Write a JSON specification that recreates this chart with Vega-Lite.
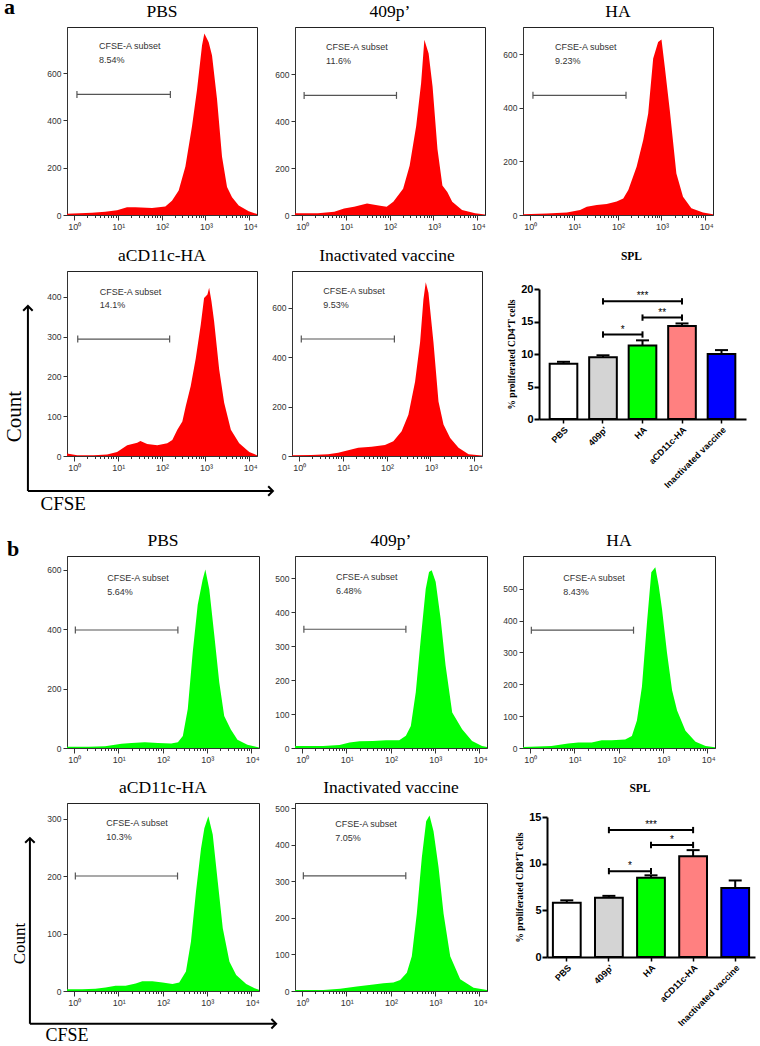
{
"$schema": "https://vega.github.io/schema/vega-lite/v6.json",
"background": "white",
"padding": {"left": 2, "top": -4, "right": 0, "bottom": 0},
"config": {
  "view": {"stroke": "#222", "strokeWidth": 1},
  "axis": {"grid": false, "labelFont": "Liberation Sans", "labelFontSize": 8.5, "labelColor": "#333", "tickColor": "#333", "domainColor": "#333", "labelPadding": 2, "labelOverlap": false, "labelSeparation": -60, "labelFlush": false, "titleFont": "Liberation Serif", "titleFontWeight": "normal", "titleColor": "black"},
  "title": {"font": "Liberation Serif", "fontSize": 17.5, "fontWeight": "normal", "color": "black", "offset": 7},
  "text": {"font": "Liberation Sans"}
},
"datasets": {
  "hist": [
    {"p":"aPBS","x":0.7,"c":5},{"p":"aPBS","x":2.6,"c":10},{"p":"aPBS","x":5.2,"c":14},{"p":"aPBS","x":9.7,"c":20},{"p":"aPBS","x":16.3,"c":33},{"p":"aPBS","x":25.3,"c":33},{"p":"aPBS","x":60.7,"c":30},{"p":"aPBS","x":122,"c":36},{"p":"aPBS","x":173,"c":60},{"p":"aPBS","x":246,"c":104},{"p":"aPBS","x":349,"c":204},{"p":"aPBS","x":495,"c":375},{"p":"aPBS","x":644,"c":530},{"p":"aPBS","x":837,"c":717},{"p":"aPBS","x":946,"c":767},{"p":"aPBS","x":1189,"c":731},{"p":"aPBS","x":1416,"c":674},{"p":"aPBS","x":1841,"c":489},{"p":"aPBS","x":2393,"c":246},{"p":"aPBS","x":3112,"c":118},{"p":"aPBS","x":4046,"c":75},{"p":"aPBS","x":5741,"c":40},{"p":"aPBS","x":9705,"c":16},{"p":"aPBS","x":15000,"c":4},
    {"p":"a409","x":0.7,"c":7},{"p":"a409","x":2.33,"c":7},{"p":"a409","x":5.5,"c":14},{"p":"a409","x":9.2,"c":28},{"p":"a409","x":15.5,"c":35},{"p":"a409","x":30.7,"c":49},{"p":"a409","x":61,"c":39},{"p":"a409","x":86,"c":35},{"p":"a409","x":122,"c":56},{"p":"a409","x":204,"c":112},{"p":"a409","x":287,"c":210},{"p":"a409","x":405,"c":379},{"p":"a409","x":524,"c":561},{"p":"a409","x":622,"c":746},{"p":"a409","x":778,"c":687},{"p":"a409","x":957,"c":547},{"p":"a409","x":1239,"c":280},{"p":"a409","x":1603,"c":126},{"p":"a409","x":2075,"c":98},{"p":"a409","x":2685,"c":56},{"p":"a409","x":4498,"c":21},{"p":"a409","x":8935,"c":7},{"p":"a409","x":15000,"c":2},
    {"p":"aHA","x":0.7,"c":3},{"p":"aHA","x":2.45,"c":6},{"p":"aHA","x":7.0,"c":9},{"p":"aHA","x":14,"c":19},{"p":"aHA","x":19.9,"c":31},{"p":"aHA","x":33.5,"c":37},{"p":"aHA","x":56.6,"c":41},{"p":"aHA","x":95.5,"c":50},{"p":"aHA","x":135,"c":62},{"p":"aHA","x":176,"c":93},{"p":"aHA","x":272,"c":180},{"p":"aHA","x":385,"c":280},{"p":"aHA","x":500,"c":379},{"p":"aHA","x":649,"c":584},{"p":"aHA","x":843,"c":646},{"p":"aHA","x":1004,"c":655},{"p":"aHA","x":1195,"c":553},{"p":"aHA","x":1552,"c":391},{"p":"aHA","x":2195,"c":155},{"p":"aHA","x":3110,"c":68},{"p":"aHA","x":4815,"c":25},{"p":"aHA","x":8870,"c":9},{"p":"aHA","x":15000,"c":3},
    {"p":"aCD","x":0.7,"c":6},{"p":"aCD","x":1.19,"c":2},{"p":"aCD","x":2.85,"c":2},{"p":"aCD","x":5.75,"c":4},{"p":"aCD","x":9.7,"c":10},{"p":"aCD","x":16.5,"c":27},{"p":"aCD","x":27.9,"c":33},{"p":"aCD","x":33,"c":38},{"p":"aCD","x":47,"c":30},{"p":"aCD","x":80,"c":27},{"p":"aCD","x":135,"c":32},{"p":"aCD","x":176,"c":40},{"p":"aCD","x":229,"c":66},{"p":"aCD","x":298,"c":87},{"p":"aCD","x":356,"c":125},{"p":"aCD","x":463,"c":176},{"p":"aCD","x":602,"c":245},{"p":"aCD","x":783,"c":330},{"p":"aCD","x":933,"c":397},{"p":"aCD","x":1113,"c":406},{"p":"aCD","x":1216,"c":423},{"p":"aCD","x":1374,"c":389},{"p":"aCD","x":1581,"c":338},{"p":"aCD","x":2057,"c":218},{"p":"aCD","x":2677,"c":134},{"p":"aCD","x":3805,"c":66},{"p":"aCD","x":5900,"c":32},{"p":"aCD","x":9990,"c":10},{"p":"aCD","x":15000,"c":2},
    {"p":"aIn","x":0.7,"c":3},{"p":"aIn","x":1.94,"c":4},{"p":"aIn","x":4.66,"c":7},{"p":"aIn","x":7.9,"c":13},{"p":"aIn","x":13.4,"c":23},{"p":"aIn","x":22.6,"c":33},{"p":"aIn","x":45.6,"c":37},{"p":"aIn","x":92,"c":44},{"p":"aIn","x":143,"c":60},{"p":"aIn","x":221,"c":100},{"p":"aIn","x":315,"c":167},{"p":"aIn","x":447,"c":300},{"p":"aIn","x":582,"c":460},{"p":"aIn","x":693,"c":633},{"p":"aIn","x":784,"c":703},{"p":"aIn","x":902,"c":660},{"p":"aIn","x":1174,"c":460},{"p":"aIn","x":1528,"c":220},{"p":"aIn","x":1988,"c":127},{"p":"aIn","x":2823,"c":73},{"p":"aIn","x":4377,"c":33},{"p":"aIn","x":7413,"c":7},{"p":"aIn","x":15000,"c":2},
    {"p":"bPBS","x":0.7,"c":4},{"p":"bPBS","x":2.14,"c":4},{"p":"bPBS","x":5.06,"c":6},{"p":"bPBS","x":11.9,"c":14},{"p":"bPBS","x":20,"c":17},{"p":"bPBS","x":39.8,"c":19},{"p":"bPBS","x":79,"c":17},{"p":"bPBS","x":157,"c":15},{"p":"bPBS","x":222,"c":19},{"p":"bPBS","x":287,"c":40},{"p":"bPBS","x":371,"c":131},{"p":"bPBS","x":481,"c":324},{"p":"bPBS","x":622,"c":482},{"p":"bPBS","x":805,"c":567},{"p":"bPBS","x":924,"c":601},{"p":"bPBS","x":1136,"c":533},{"p":"bPBS","x":1470,"c":380},{"p":"bPBS","x":1903,"c":221},{"p":"bPBS","x":2462,"c":108},{"p":"bPBS","x":3473,"c":62},{"p":"bPBS","x":4900,"c":28},{"p":"bPBS","x":8200,"c":11},{"p":"bPBS","x":15000,"c":2},
    {"p":"b409","x":0.7,"c":6},{"p":"b409","x":3.0,"c":6},{"p":"b409","x":7.1,"c":9},{"p":"b409","x":11.9,"c":16},{"p":"b409","x":20,"c":20},{"p":"b409","x":39.8,"c":21},{"p":"b409","x":79,"c":23},{"p":"b409","x":157,"c":23},{"p":"b409","x":222,"c":36},{"p":"b409","x":287,"c":65},{"p":"b409","x":371,"c":164},{"p":"b409","x":481,"c":322},{"p":"b409","x":622,"c":469},{"p":"b409","x":739,"c":519},{"p":"b409","x":848,"c":524},{"p":"b409","x":1042,"c":490},{"p":"b409","x":1349,"c":381},{"p":"b409","x":1746,"c":243},{"p":"b409","x":2462,"c":105},{"p":"b409","x":4125,"c":55},{"p":"b409","x":6905,"c":21},{"p":"b409","x":11560,"c":6},{"p":"b409","x":15000,"c":3},
    {"p":"bHA","x":0.7,"c":3},{"p":"bHA","x":3.07,"c":6},{"p":"bHA","x":7.3,"c":14},{"p":"bHA","x":12.4,"c":17},{"p":"bHA","x":24.8,"c":17},{"p":"bHA","x":41.8,"c":24},{"p":"bHA","x":70,"c":24},{"p":"bHA","x":141,"c":27},{"p":"bHA","x":200,"c":38},{"p":"bHA","x":260,"c":86},{"p":"bHA","x":337,"c":192},{"p":"bHA","x":438,"c":393},{"p":"bHA","x":549,"c":552},{"p":"bHA","x":676,"c":568},{"p":"bHA","x":805,"c":510},{"p":"bHA","x":958,"c":436},{"p":"bHA","x":1242,"c":298},{"p":"bHA","x":1614,"c":181},{"p":"bHA","x":2094,"c":118},{"p":"bHA","x":3235,"c":54},{"p":"bHA","x":5455,"c":20},{"p":"bHA","x":9200,"c":6},{"p":"bHA","x":15000,"c":2},
    {"p":"bCD","x":0.7,"c":3},{"p":"bCD","x":1.53,"c":3},{"p":"bCD","x":3.07,"c":4},{"p":"bCD","x":5.2,"c":6},{"p":"bCD","x":8.7,"c":9},{"p":"bCD","x":14.7,"c":9},{"p":"bCD","x":24.8,"c":13},{"p":"bCD","x":35,"c":17},{"p":"bCD","x":59,"c":17},{"p":"bCD","x":100,"c":15},{"p":"bCD","x":168,"c":12},{"p":"bCD","x":238,"c":15},{"p":"bCD","x":337,"c":34},{"p":"bCD","x":438,"c":86},{"p":"bCD","x":569,"c":173},{"p":"bCD","x":738,"c":248},{"p":"bCD","x":878,"c":283},{"p":"bCD","x":1081,"c":304},{"p":"bCD","x":1356,"c":272},{"p":"bCD","x":1762,"c":190},{"p":"bCD","x":2286,"c":109},{"p":"bCD","x":3236,"c":51},{"p":"bCD","x":4584,"c":28},{"p":"bCD","x":7720,"c":12},{"p":"bCD","x":11940,"c":5},{"p":"bCD","x":15000,"c":2},
    {"p":"bIn","x":0.7,"c":3},{"p":"bIn","x":3.05,"c":3},{"p":"bIn","x":7.3,"c":6},{"p":"bIn","x":17.3,"c":12},{"p":"bIn","x":41.2,"c":18},{"p":"bIn","x":69,"c":21},{"p":"bIn","x":116,"c":23},{"p":"bIn","x":165,"c":30},{"p":"bIn","x":233,"c":50},{"p":"bIn","x":302,"c":95},{"p":"bIn","x":392,"c":212},{"p":"bIn","x":508,"c":365},{"p":"bIn","x":637,"c":464},{"p":"bIn","x":758,"c":480},{"p":"bIn","x":933,"c":437},{"p":"bIn","x":1211,"c":338},{"p":"bIn","x":1570,"c":212},{"p":"bIn","x":2220,"c":95},{"p":"bIn","x":3733,"c":32},{"p":"bIn","x":7475,"c":9},{"p":"bIn","x":15000,"c":3}
  ],
  "gate": [
    {"p":"aPBS","g1":1.18,"g2":159,"gy":510,"pct":"8.54%"},
    {"p":"a409","g1":1.13,"g2":144,"gy":509,"pct":"11.6%"},
    {"p":"aHA","g1":1.18,"g2":156,"gy":447,"pct":"9.23%"},
    {"p":"aCD","g1":1.23,"g2":153,"gy":294,"pct":"14.1%"},
    {"p":"aIn","g1":1.14,"g2":151,"gy":473,"pct":"9.53%"},
    {"p":"bPBS","g1":1.08,"g2":222,"gy":397,"pct":"5.64%"},
    {"p":"b409","g1":1.11,"g2":222,"gy":350,"pct":"6.48%"},
    {"p":"bHA","g1":1.08,"g2":218,"gy":370,"pct":"8.43%"},
    {"p":"bCD","g1":1.08,"g2":218,"gy":200,"pct":"10.3%"},
    {"p":"bIn","g1":1.08,"g2":221,"gy":315,"pct":"7.05%"}
  ],
  "barsA": [{"g":"PBS","m":8.5,"hi":8.8},{"g":"409p'","m":9.5,"hi":9.8},{"g":"HA","m":11.3,"hi":12.1},{"g":"aCD11c-HA","m":14.3,"hi":14.7},{"g":"Inactivated vaccine","m":10.0,"hi":10.6}],
  "barsB": [{"g":"PBS","m":5.8,"hi":6.07},{"g":"409p'","m":6.35,"hi":6.55},{"g":"HA","m":8.5,"hi":8.75},{"g":"aCD11c-HA","m":10.8,"hi":11.45},{"g":"Inactivated vaccine","m":7.4,"hi":8.2}],
  "sigA": [{"from":"409p'","to":"HA","y":13.0,"s":"*","span":1},{"from":"HA","to":"aCD11c-HA","y":15.6,"s":"**","span":1},{"from":"409p'","to":"aCD11c-HA","y":18.1,"s":"***","span":2}],
  "sigB": [{"from":"409p'","to":"HA","y":9.2,"s":"*","span":1},{"from":"HA","to":"aCD11c-HA","y":12.0,"s":"*","span":1},{"from":"409p'","to":"aCD11c-HA","y":13.6,"s":"***","span":2}]
},
"spacing": 17,
"align": "none",
"vconcat": [
 {"spacing": 14, "vconcat": [
  {"title": {"text": "a", "anchor": "start", "frame": "group", "dx": -63, "dy": 17, "offset": 0, "fontSize": 22, "fontWeight": "bold", "font": "Liberation Serif"},
   "hconcat": [
   {"width": 190, "height": 188, "title": "PBS", "layer": [
    {"data": {"name": "hist"}, "transform": [{"filter": "datum.p=='aPBS'"}], "mark": {"type": "area", "color": "#ff0000"},
     "encoding": {
      "x": {"field": "x", "type": "quantitative", "scale": {"type": "log", "domain": [0.7, 15000], "nice": false}, "axis": {"title": null, "labelOverlap": false, "values": [1,2,3,4,5,6,7,8,9,10,20,30,40,50,60,70,80,90,100,200,300,400,500,600,700,800,900,1000,2000,3000,4000,5000,6000,7000,8000,9000,10000], "labelExpr": "datum.value==1?'10⁰':datum.value==10?'10¹':datum.value==100?'10²':datum.value==1000?'10³':datum.value==10000?'10⁴':''", "labelFontSize": 9, "labelAlign": "left", "labelOffset": -6, "tickSize": {"condition": {"test": "indexof([1,10,100,1000,10000], datum.value) >= 0", "value": 5}, "value": 2.5}}},
      "y": {"field": "c", "type": "quantitative", "scale": {"domain": [0, 795], "nice": false}, "axis": {"title": null, "labelOverlap": false, "values": [0,200,400,600], "tickCount": 4, "tickSize": 4}}
     }},
    {"data": {"name": "gate"}, "transform": [{"filter": "datum.p=='aPBS'"}], "mark": {"type": "rule", "color": "#555", "strokeWidth": 1.2}, "encoding": {"x": {"field": "g1", "type": "quantitative"}, "x2": {"field": "g2"}, "y": {"field": "gy", "type": "quantitative"}}},
    {"data": {"name": "gate"}, "transform": [{"filter": "datum.p=='aPBS'"}, {"fold": ["g1", "g2"], "as": ["end", "gx"]}], "mark": {"type": "point", "shape": "M0,-1L0,1", "size": 49, "color": "#555", "strokeWidth": 1.2, "opacity": 1}, "encoding": {"x": {"field": "gx", "type": "quantitative"}, "y": {"field": "gy", "type": "quantitative"}}},
    {"data": {"name": "gate"}, "transform": [{"filter": "datum.p=='aPBS'"}], "mark": {"type": "text", "text": "CFSE-A subset", "align": "left", "baseline": "middle", "dx": 22, "dy": -48, "fontSize": 9, "color": "#333"}, "encoding": {"x": {"field": "g1", "type": "quantitative"}, "y": {"field": "gy", "type": "quantitative"}}},
    {"data": {"name": "gate"}, "transform": [{"filter": "datum.p=='aPBS'"}], "mark": {"type": "text", "align": "left", "baseline": "middle", "dx": 22, "dy": -34, "fontSize": 9, "color": "#333"}, "encoding": {"x": {"field": "g1", "type": "quantitative"}, "y": {"field": "gy", "type": "quantitative"}, "text": {"field": "pct"}}}
   ]},
   {"width": 190, "height": 188, "title": "409p’", "layer": [
    {"data": {"name": "hist"}, "transform": [{"filter": "datum.p=='a409'"}], "mark": {"type": "area", "color": "#ff0000"},
     "encoding": {
      "x": {"field": "x", "type": "quantitative", "scale": {"type": "log", "domain": [0.7, 15000], "nice": false}, "axis": {"title": null, "labelOverlap": false, "values": [1,2,3,4,5,6,7,8,9,10,20,30,40,50,60,70,80,90,100,200,300,400,500,600,700,800,900,1000,2000,3000,4000,5000,6000,7000,8000,9000,10000], "labelExpr": "datum.value==1?'10⁰':datum.value==10?'10¹':datum.value==100?'10²':datum.value==1000?'10³':datum.value==10000?'10⁴':''", "labelFontSize": 9, "labelAlign": "left", "labelOffset": -6, "tickSize": {"condition": {"test": "indexof([1,10,100,1000,10000], datum.value) >= 0", "value": 5}, "value": 2.5}}},
      "y": {"field": "c", "type": "quantitative", "scale": {"domain": [0, 800], "nice": false}, "axis": {"title": null, "labelOverlap": false, "values": [0,200,400,600], "tickCount": 4, "tickSize": 4}}
     }},
    {"data": {"name": "gate"}, "transform": [{"filter": "datum.p=='a409'"}], "mark": {"type": "rule", "color": "#555", "strokeWidth": 1.2}, "encoding": {"x": {"field": "g1", "type": "quantitative"}, "x2": {"field": "g2"}, "y": {"field": "gy", "type": "quantitative"}}},
    {"data": {"name": "gate"}, "transform": [{"filter": "datum.p=='a409'"}, {"fold": ["g1", "g2"], "as": ["end", "gx"]}], "mark": {"type": "point", "shape": "M0,-1L0,1", "size": 49, "color": "#555", "strokeWidth": 1.2, "opacity": 1}, "encoding": {"x": {"field": "gx", "type": "quantitative"}, "y": {"field": "gy", "type": "quantitative"}}},
    {"data": {"name": "gate"}, "transform": [{"filter": "datum.p=='a409'"}], "mark": {"type": "text", "text": "CFSE-A subset", "align": "left", "baseline": "middle", "dx": 22, "dy": -48, "fontSize": 9, "color": "#333"}, "encoding": {"x": {"field": "g1", "type": "quantitative"}, "y": {"field": "gy", "type": "quantitative"}}},
    {"data": {"name": "gate"}, "transform": [{"filter": "datum.p=='a409'"}], "mark": {"type": "text", "align": "left", "baseline": "middle", "dx": 22, "dy": -34, "fontSize": 9, "color": "#333"}, "encoding": {"x": {"field": "g1", "type": "quantitative"}, "y": {"field": "gy", "type": "quantitative"}, "text": {"field": "pct"}}}
   ]},
   {"width": 190, "height": 188, "title": "HA", "layer": [
    {"data": {"name": "hist"}, "transform": [{"filter": "datum.p=='aHA'"}], "mark": {"type": "area", "color": "#ff0000"},
     "encoding": {
      "x": {"field": "x", "type": "quantitative", "scale": {"type": "log", "domain": [0.7, 15000], "nice": false}, "axis": {"title": null, "labelOverlap": false, "values": [1,2,3,4,5,6,7,8,9,10,20,30,40,50,60,70,80,90,100,200,300,400,500,600,700,800,900,1000,2000,3000,4000,5000,6000,7000,8000,9000,10000], "labelExpr": "datum.value==1?'10⁰':datum.value==10?'10¹':datum.value==100?'10²':datum.value==1000?'10³':datum.value==10000?'10⁴':''", "labelFontSize": 9, "labelAlign": "left", "labelOffset": -6, "tickSize": {"condition": {"test": "indexof([1,10,100,1000,10000], datum.value) >= 0", "value": 5}, "value": 2.5}}},
      "y": {"field": "c", "type": "quantitative", "scale": {"domain": [0, 702], "nice": false}, "axis": {"title": null, "labelOverlap": false, "values": [0,200,400,600], "tickCount": 4, "tickSize": 4}}
     }},
    {"data": {"name": "gate"}, "transform": [{"filter": "datum.p=='aHA'"}], "mark": {"type": "rule", "color": "#555", "strokeWidth": 1.2}, "encoding": {"x": {"field": "g1", "type": "quantitative"}, "x2": {"field": "g2"}, "y": {"field": "gy", "type": "quantitative"}}},
    {"data": {"name": "gate"}, "transform": [{"filter": "datum.p=='aHA'"}, {"fold": ["g1", "g2"], "as": ["end", "gx"]}], "mark": {"type": "point", "shape": "M0,-1L0,1", "size": 49, "color": "#555", "strokeWidth": 1.2, "opacity": 1}, "encoding": {"x": {"field": "gx", "type": "quantitative"}, "y": {"field": "gy", "type": "quantitative"}}},
    {"data": {"name": "gate"}, "transform": [{"filter": "datum.p=='aHA'"}], "mark": {"type": "text", "text": "CFSE-A subset", "align": "left", "baseline": "middle", "dx": 22, "dy": -48, "fontSize": 9, "color": "#333"}, "encoding": {"x": {"field": "g1", "type": "quantitative"}, "y": {"field": "gy", "type": "quantitative"}}},
    {"data": {"name": "gate"}, "transform": [{"filter": "datum.p=='aHA'"}], "mark": {"type": "text", "align": "left", "baseline": "middle", "dx": 22, "dy": -34, "fontSize": 9, "color": "#333"}, "encoding": {"x": {"field": "g1", "type": "quantitative"}, "y": {"field": "gy", "type": "quantitative"}, "text": {"field": "pct"}}}
   ]}
  ], "spacing": 38, "bounds": "flush"},
  {"hconcat": [
   {"width": 190, "height": 185, "title": "aCD11c-HA", "layer": [
    {"data": {"name": "hist"}, "transform": [{"filter": "datum.p=='aCD'"}], "mark": {"type": "area", "color": "#ff0000"},
     "encoding": {
      "x": {"field": "x", "type": "quantitative", "scale": {"type": "log", "domain": [0.7, 15000], "nice": false}, "axis": {"title": "CFSE", "titleX": -27, "titleY": 53, "titleAlign": "left", "titleBaseline": "alphabetic", "titleFontSize": 19, "labelOverlap": false, "values": [1,2,3,4,5,6,7,8,9,10,20,30,40,50,60,70,80,90,100,200,300,400,500,600,700,800,900,1000,2000,3000,4000,5000,6000,7000,8000,9000,10000], "labelExpr": "datum.value==1?'10⁰':datum.value==10?'10¹':datum.value==100?'10²':datum.value==1000?'10³':datum.value==10000?'10⁴':''", "labelFontSize": 9, "labelAlign": "left", "labelOffset": -6, "tickSize": {"condition": {"test": "indexof([1,10,100,1000,10000], datum.value) >= 0", "value": 5}, "value": 2.5}}},
      "y": {"field": "c", "type": "quantitative", "scale": {"domain": [0, 465], "nice": false}, "axis": {"title": "Count", "titleX": -43, "titleY": 145, "titleAngle": -90, "titleAlign": "center", "titleBaseline": "bottom", "titleFontSize": 21, "labelOverlap": false, "values": [0,100,200,300,400], "tickCount": 5, "tickSize": 4}}
     }},
    {"data": {"name": "gate"}, "transform": [{"filter": "datum.p=='aCD'"}], "mark": {"type": "rule", "color": "#555", "strokeWidth": 1.2}, "encoding": {"x": {"field": "g1", "type": "quantitative"}, "x2": {"field": "g2"}, "y": {"field": "gy", "type": "quantitative"}}},
    {"data": {"name": "gate"}, "transform": [{"filter": "datum.p=='aCD'"}, {"fold": ["g1", "g2"], "as": ["end", "gx"]}], "mark": {"type": "point", "shape": "M0,-1L0,1", "size": 49, "color": "#555", "strokeWidth": 1.2, "opacity": 1}, "encoding": {"x": {"field": "gx", "type": "quantitative"}, "y": {"field": "gy", "type": "quantitative"}}},
    {"data": {"name": "gate"}, "transform": [{"filter": "datum.p=='aCD'"}], "mark": {"type": "text", "text": "CFSE-A subset", "align": "left", "baseline": "middle", "dx": 22, "dy": -47, "fontSize": 9, "color": "#333"}, "encoding": {"x": {"field": "g1", "type": "quantitative"}, "y": {"field": "gy", "type": "quantitative"}}},
    {"data": {"name": "gate"}, "transform": [{"filter": "datum.p=='aCD'"}], "mark": {"type": "text", "align": "left", "baseline": "middle", "dx": 22, "dy": -34, "fontSize": 9, "color": "#333"}, "encoding": {"x": {"field": "g1", "type": "quantitative"}, "y": {"field": "gy", "type": "quantitative"}, "text": {"field": "pct"}}},
    {"data": {"values": [{}]}, "mark": {"type": "rule", "color": "black", "strokeWidth": 2}, "encoding": {"x": {"datum": 0.09, "type": "quantitative"}, "y": {"datum": -88, "type": "quantitative"}, "y2": {"datum": 377}}},
    {"data": {"values": [{}]}, "mark": {"type": "rule", "color": "black", "strokeWidth": 2}, "encoding": {"x": {"datum": 0.09, "type": "quantitative"}, "x2": {"datum": 34600}, "y": {"datum": -88, "type": "quantitative"}}},
    {"data": {"values": [{}]}, "mark": {"type": "point", "shape": "M-1,1L0,0L1,1", "size": 90, "color": "black", "strokeWidth": 2, "opacity": 1}, "encoding": {"x": {"datum": 0.09, "type": "quantitative"}, "y": {"datum": 377, "type": "quantitative"}}},
    {"data": {"values": [{}]}, "mark": {"type": "point", "shape": "M-1,-1L0,0L-1,1", "size": 90, "color": "black", "strokeWidth": 2, "opacity": 1}, "encoding": {"x": {"datum": 34600, "type": "quantitative"}, "y": {"datum": -88, "type": "quantitative"}}}
   ]},
   {"width": 190, "height": 185, "title": "Inactivated vaccine", "layer": [
    {"data": {"name": "hist"}, "transform": [{"filter": "datum.p=='aIn'"}], "mark": {"type": "area", "color": "#ff0000"},
     "encoding": {
      "x": {"field": "x", "type": "quantitative", "scale": {"type": "log", "domain": [0.7, 15000], "nice": false}, "axis": {"title": null, "labelOverlap": false, "values": [1,2,3,4,5,6,7,8,9,10,20,30,40,50,60,70,80,90,100,200,300,400,500,600,700,800,900,1000,2000,3000,4000,5000,6000,7000,8000,9000,10000], "labelExpr": "datum.value==1?'10⁰':datum.value==10?'10¹':datum.value==100?'10²':datum.value==1000?'10³':datum.value==10000?'10⁴':''", "labelFontSize": 9, "labelAlign": "left", "labelOffset": -6, "tickSize": {"condition": {"test": "indexof([1,10,100,1000,10000], datum.value) >= 0", "value": 5}, "value": 2.5}}},
      "y": {"field": "c", "type": "quantitative", "scale": {"domain": [0, 748], "nice": false}, "axis": {"title": null, "labelOverlap": false, "values": [0,200,400,600], "tickCount": 4, "tickSize": 4}}
     }},
    {"data": {"name": "gate"}, "transform": [{"filter": "datum.p=='aIn'"}], "mark": {"type": "rule", "color": "#555", "strokeWidth": 1.2}, "encoding": {"x": {"field": "g1", "type": "quantitative"}, "x2": {"field": "g2"}, "y": {"field": "gy", "type": "quantitative"}}},
    {"data": {"name": "gate"}, "transform": [{"filter": "datum.p=='aIn'"}, {"fold": ["g1", "g2"], "as": ["end", "gx"]}], "mark": {"type": "point", "shape": "M0,-1L0,1", "size": 49, "color": "#555", "strokeWidth": 1.2, "opacity": 1}, "encoding": {"x": {"field": "gx", "type": "quantitative"}, "y": {"field": "gy", "type": "quantitative"}}},
    {"data": {"name": "gate"}, "transform": [{"filter": "datum.p=='aIn'"}], "mark": {"type": "text", "text": "CFSE-A subset", "align": "left", "baseline": "middle", "dx": 22, "dy": -48, "fontSize": 9, "color": "#333"}, "encoding": {"x": {"field": "g1", "type": "quantitative"}, "y": {"field": "gy", "type": "quantitative"}}},
    {"data": {"name": "gate"}, "transform": [{"filter": "datum.p=='aIn'"}], "mark": {"type": "text", "align": "left", "baseline": "middle", "dx": 22, "dy": -34, "fontSize": 9, "color": "#333"}, "encoding": {"x": {"field": "g1", "type": "quantitative"}, "y": {"field": "gy", "type": "quantitative"}, "text": {"field": "pct"}}}
   ]},
   {"width": 229, "height": 148, "title": {"text": "SPL", "fontWeight": "bold", "fontSize": 11.5, "offset": 9}, "view": {"stroke": null}, "layer": [
    {"data": {"name": "barsA"}, "mark": {"type": "bar", "stroke": "black", "strokeWidth": 2},
     "encoding": {
      "x": {"field": "g", "type": "nominal", "scale": {"domain": ["PBS","409p'","HA","aCD11c-HA","Inactivated vaccine"], "range": [22, 229], "paddingInner": 0.3, "paddingOuter": 0.27}, "axis": {"title": null, "labelAngle": -45, "labelFont": "Liberation Sans", "labelFontWeight": "bold", "labelFontSize": 9, "labelColor": "black", "domainWidth": 2, "domainColor": "black", "tickColor": "black", "tickWidth": 1.5, "tickSize": 4, "labelPadding": 2}},
      "y": {"field": "m", "type": "quantitative", "scale": {"domain": [0, 20], "range": [148, 18], "nice": false}, "axis": {"title": "% proliferated CD4⁺T cells", "labelOverlap": false, "values": [0,5,10,15,20], "tickCount": 5, "offset": -22, "domainWidth": 2, "domainColor": "black", "tickWidth": 2, "tickColor": "black", "tickSize": 5, "labelFont": "Liberation Sans", "labelFontWeight": "bold", "labelFontSize": 11, "labelColor": "black", "labelPadding": 1, "titleFont": "Liberation Serif", "titleFontWeight": "bold", "titleFontSize": 9.5, "titlePadding": 4}},
      "color": {"field": "g", "type": "nominal", "scale": {"domain": ["PBS","409p'","HA","aCD11c-HA","Inactivated vaccine"], "range": ["#ffffff","#d4d4d4","#00ff00","#ff8080","#0000ff"]}, "legend": null}
     }},
    {"data": {"name": "barsA"}, "mark": {"type": "rule", "strokeWidth": 2, "color": "black"}, "encoding": {"x": {"field": "g", "type": "nominal"}, "y": {"field": "m", "type": "quantitative"}, "y2": {"field": "hi"}}},
    {"data": {"name": "barsA"}, "mark": {"type": "tick", "thickness": 2, "size": 13, "color": "black", "opacity": 1}, "encoding": {"x": {"field": "g", "type": "nominal"}, "y": {"field": "hi", "type": "quantitative"}}},
    {"data": {"name": "sigA"}, "mark": {"type": "rule", "strokeWidth": 2, "color": "black"}, "encoding": {"x": {"field": "from", "type": "nominal", "bandPosition": 0.5}, "x2": {"field": "to"}, "y": {"field": "y", "type": "quantitative"}}},
    {"data": {"name": "sigA"}, "transform": [{"fold": ["from", "to"], "as": ["end", "cat"]}], "mark": {"type": "point", "shape": "M0,-1L0,1", "size": 40, "color": "black", "strokeWidth": 2, "opacity": 1}, "encoding": {"x": {"field": "cat", "type": "nominal"}, "y": {"field": "y", "type": "quantitative"}}},
    {"data": {"name": "sigA"}, "transform": [{"filter": "datum.span == 1"}], "mark": {"type": "text", "fontSize": 10, "baseline": "middle", "dy": -5, "color": "black"}, "encoding": {"x": {"field": "from", "type": "nominal", "bandPosition": 1.214}, "y": {"field": "y", "type": "quantitative"}, "text": {"field": "s"}}},
    {"data": {"name": "sigA"}, "transform": [{"filter": "datum.span == 2"}], "mark": {"type": "text", "fontSize": 10, "baseline": "middle", "dy": -5, "color": "black"}, "encoding": {"x": {"field": "from", "type": "nominal", "bandPosition": 1.929}, "y": {"field": "y", "type": "quantitative"}, "text": {"field": "s"}}}
   ]}
  ], "spacing": 35, "bounds": "flush"}
 ]},
 {"spacing": 13, "vconcat": [
  {"title": {"text": "b", "anchor": "start", "frame": "group", "dx": -60, "dy": 30, "offset": 0, "fontSize": 22, "fontWeight": "bold", "font": "Liberation Serif"},
   "hconcat": [
   {"width": 192, "height": 192, "title": "PBS", "layer": [
    {"data": {"name": "hist"}, "transform": [{"filter": "datum.p=='bPBS'"}], "mark": {"type": "area", "color": "#00ff00"},
     "encoding": {
      "x": {"field": "x", "type": "quantitative", "scale": {"type": "log", "domain": [0.7, 15000], "nice": false}, "axis": {"title": null, "labelOverlap": false, "values": [1,2,3,4,5,6,7,8,9,10,20,30,40,50,60,70,80,90,100,200,300,400,500,600,700,800,900,1000,2000,3000,4000,5000,6000,7000,8000,9000,10000], "labelExpr": "datum.value==1?'10⁰':datum.value==10?'10¹':datum.value==100?'10²':datum.value==1000?'10³':datum.value==10000?'10⁴':''", "labelFontSize": 9, "labelAlign": "left", "labelOffset": -6, "tickSize": {"condition": {"test": "indexof([1,10,100,1000,10000], datum.value) >= 0", "value": 5}, "value": 2.5}}},
      "y": {"field": "c", "type": "quantitative", "scale": {"domain": [0, 646], "nice": false}, "axis": {"title": null, "labelOverlap": false, "values": [0,200,400,600], "tickCount": 4, "tickSize": 4}}
     }},
    {"data": {"name": "gate"}, "transform": [{"filter": "datum.p=='bPBS'"}], "mark": {"type": "rule", "color": "#555", "strokeWidth": 1.2}, "encoding": {"x": {"field": "g1", "type": "quantitative"}, "x2": {"field": "g2"}, "y": {"field": "gy", "type": "quantitative"}}},
    {"data": {"name": "gate"}, "transform": [{"filter": "datum.p=='bPBS'"}, {"fold": ["g1", "g2"], "as": ["end", "gx"]}], "mark": {"type": "point", "shape": "M0,-1L0,1", "size": 49, "color": "#555", "strokeWidth": 1.2, "opacity": 1}, "encoding": {"x": {"field": "gx", "type": "quantitative"}, "y": {"field": "gy", "type": "quantitative"}}},
    {"data": {"name": "gate"}, "transform": [{"filter": "datum.p=='bPBS'"}], "mark": {"type": "text", "text": "CFSE-A subset", "align": "left", "baseline": "middle", "dx": 32, "dy": -52, "fontSize": 9, "color": "#333"}, "encoding": {"x": {"field": "g1", "type": "quantitative"}, "y": {"field": "gy", "type": "quantitative"}}},
    {"data": {"name": "gate"}, "transform": [{"filter": "datum.p=='bPBS'"}], "mark": {"type": "text", "align": "left", "baseline": "middle", "dx": 32, "dy": -38, "fontSize": 9, "color": "#333"}, "encoding": {"x": {"field": "g1", "type": "quantitative"}, "y": {"field": "gy", "type": "quantitative"}, "text": {"field": "pct"}}}
   ]},
   {"width": 192, "height": 192, "title": "409p’", "layer": [
    {"data": {"name": "hist"}, "transform": [{"filter": "datum.p=='b409'"}], "mark": {"type": "area", "color": "#00ff00"},
     "encoding": {
      "x": {"field": "x", "type": "quantitative", "scale": {"type": "log", "domain": [0.7, 15000], "nice": false}, "axis": {"title": null, "labelOverlap": false, "values": [1,2,3,4,5,6,7,8,9,10,20,30,40,50,60,70,80,90,100,200,300,400,500,600,700,800,900,1000,2000,3000,4000,5000,6000,7000,8000,9000,10000], "labelExpr": "datum.value==1?'10⁰':datum.value==10?'10¹':datum.value==100?'10²':datum.value==1000?'10³':datum.value==10000?'10⁴':''", "labelFontSize": 9, "labelAlign": "left", "labelOffset": -6, "tickSize": {"condition": {"test": "indexof([1,10,100,1000,10000], datum.value) >= 0", "value": 5}, "value": 2.5}}},
      "y": {"field": "c", "type": "quantitative", "scale": {"domain": [0, 566], "nice": false}, "axis": {"title": null, "labelOverlap": false, "values": [0,100,200,300,400,500], "tickCount": 6, "tickSize": 4}}
     }},
    {"data": {"name": "gate"}, "transform": [{"filter": "datum.p=='b409'"}], "mark": {"type": "rule", "color": "#555", "strokeWidth": 1.2}, "encoding": {"x": {"field": "g1", "type": "quantitative"}, "x2": {"field": "g2"}, "y": {"field": "gy", "type": "quantitative"}}},
    {"data": {"name": "gate"}, "transform": [{"filter": "datum.p=='b409'"}, {"fold": ["g1", "g2"], "as": ["end", "gx"]}], "mark": {"type": "point", "shape": "M0,-1L0,1", "size": 49, "color": "#555", "strokeWidth": 1.2, "opacity": 1}, "encoding": {"x": {"field": "gx", "type": "quantitative"}, "y": {"field": "gy", "type": "quantitative"}}},
    {"data": {"name": "gate"}, "transform": [{"filter": "datum.p=='b409'"}], "mark": {"type": "text", "text": "CFSE-A subset", "align": "left", "baseline": "middle", "dx": 32, "dy": -52, "fontSize": 9, "color": "#333"}, "encoding": {"x": {"field": "g1", "type": "quantitative"}, "y": {"field": "gy", "type": "quantitative"}}},
    {"data": {"name": "gate"}, "transform": [{"filter": "datum.p=='b409'"}], "mark": {"type": "text", "align": "left", "baseline": "middle", "dx": 32, "dy": -38, "fontSize": 9, "color": "#333"}, "encoding": {"x": {"field": "g1", "type": "quantitative"}, "y": {"field": "gy", "type": "quantitative"}, "text": {"field": "pct"}}}
   ]},
   {"width": 192, "height": 192, "title": "HA", "layer": [
    {"data": {"name": "hist"}, "transform": [{"filter": "datum.p=='bHA'"}], "mark": {"type": "area", "color": "#00ff00"},
     "encoding": {
      "x": {"field": "x", "type": "quantitative", "scale": {"type": "log", "domain": [0.7, 15000], "nice": false}, "axis": {"title": null, "labelOverlap": false, "values": [1,2,3,4,5,6,7,8,9,10,20,30,40,50,60,70,80,90,100,200,300,400,500,600,700,800,900,1000,2000,3000,4000,5000,6000,7000,8000,9000,10000], "labelExpr": "datum.value==1?'10⁰':datum.value==10?'10¹':datum.value==100?'10²':datum.value==1000?'10³':datum.value==10000?'10⁴':''", "labelFontSize": 9, "labelAlign": "left", "labelOffset": -6, "tickSize": {"condition": {"test": "indexof([1,10,100,1000,10000], datum.value) >= 0", "value": 5}, "value": 2.5}}},
      "y": {"field": "c", "type": "quantitative", "scale": {"domain": [0, 603], "nice": false}, "axis": {"title": null, "labelOverlap": false, "values": [0,100,200,300,400,500], "tickCount": 6, "tickSize": 4}}
     }},
    {"data": {"name": "gate"}, "transform": [{"filter": "datum.p=='bHA'"}], "mark": {"type": "rule", "color": "#555", "strokeWidth": 1.2}, "encoding": {"x": {"field": "g1", "type": "quantitative"}, "x2": {"field": "g2"}, "y": {"field": "gy", "type": "quantitative"}}},
    {"data": {"name": "gate"}, "transform": [{"filter": "datum.p=='bHA'"}, {"fold": ["g1", "g2"], "as": ["end", "gx"]}], "mark": {"type": "point", "shape": "M0,-1L0,1", "size": 49, "color": "#555", "strokeWidth": 1.2, "opacity": 1}, "encoding": {"x": {"field": "gx", "type": "quantitative"}, "y": {"field": "gy", "type": "quantitative"}}},
    {"data": {"name": "gate"}, "transform": [{"filter": "datum.p=='bHA'"}], "mark": {"type": "text", "text": "CFSE-A subset", "align": "left", "baseline": "middle", "dx": 32, "dy": -52, "fontSize": 9, "color": "#333"}, "encoding": {"x": {"field": "g1", "type": "quantitative"}, "y": {"field": "gy", "type": "quantitative"}}},
    {"data": {"name": "gate"}, "transform": [{"filter": "datum.p=='bHA'"}], "mark": {"type": "text", "align": "left", "baseline": "middle", "dx": 32, "dy": -38, "fontSize": 9, "color": "#333"}, "encoding": {"x": {"field": "g1", "type": "quantitative"}, "y": {"field": "gy", "type": "quantitative"}, "text": {"field": "pct"}}}
   ]}
  ], "spacing": 36, "bounds": "flush"},
  {"hconcat": [
   {"width": 192, "height": 188, "title": "aCD11c-HA", "layer": [
    {"data": {"name": "hist"}, "transform": [{"filter": "datum.p=='bCD'"}], "mark": {"type": "area", "color": "#00ff00"},
     "encoding": {
      "x": {"field": "x", "type": "quantitative", "scale": {"type": "log", "domain": [0.7, 15000], "nice": false}, "axis": {"title": "CFSE", "titleX": -22, "titleY": 49, "titleAlign": "left", "titleBaseline": "alphabetic", "titleFontSize": 18, "labelOverlap": false, "values": [1,2,3,4,5,6,7,8,9,10,20,30,40,50,60,70,80,90,100,200,300,400,500,600,700,800,900,1000,2000,3000,4000,5000,6000,7000,8000,9000,10000], "labelExpr": "datum.value==1?'10⁰':datum.value==10?'10¹':datum.value==100?'10²':datum.value==1000?'10³':datum.value==10000?'10⁴':''", "labelFontSize": 9, "labelAlign": "left", "labelOffset": -6, "tickSize": {"condition": {"test": "indexof([1,10,100,1000,10000], datum.value) >= 0", "value": 5}, "value": 2.5}}},
      "y": {"field": "c", "type": "quantitative", "scale": {"domain": [0, 327], "nice": false}, "axis": {"title": "Count", "titleX": -39, "titleY": 140, "titleAngle": -90, "titleAlign": "center", "titleBaseline": "bottom", "titleFontSize": 17, "labelOverlap": false, "values": [0,100,200,300], "tickCount": 4, "tickSize": 4}}
     }},
    {"data": {"name": "gate"}, "transform": [{"filter": "datum.p=='bCD'"}], "mark": {"type": "rule", "color": "#555", "strokeWidth": 1.2}, "encoding": {"x": {"field": "g1", "type": "quantitative"}, "x2": {"field": "g2"}, "y": {"field": "gy", "type": "quantitative"}}},
    {"data": {"name": "gate"}, "transform": [{"filter": "datum.p=='bCD'"}, {"fold": ["g1", "g2"], "as": ["end", "gx"]}], "mark": {"type": "point", "shape": "M0,-1L0,1", "size": 49, "color": "#555", "strokeWidth": 1.2, "opacity": 1}, "encoding": {"x": {"field": "gx", "type": "quantitative"}, "y": {"field": "gy", "type": "quantitative"}}},
    {"data": {"name": "gate"}, "transform": [{"filter": "datum.p=='bCD'"}], "mark": {"type": "text", "text": "CFSE-A subset", "align": "left", "baseline": "middle", "dx": 31, "dy": -53, "fontSize": 9, "color": "#333"}, "encoding": {"x": {"field": "g1", "type": "quantitative"}, "y": {"field": "gy", "type": "quantitative"}}},
    {"data": {"name": "gate"}, "transform": [{"filter": "datum.p=='bCD'"}], "mark": {"type": "text", "align": "left", "baseline": "middle", "dx": 31, "dy": -39, "fontSize": 9, "color": "#333"}, "encoding": {"x": {"field": "g1", "type": "quantitative"}, "y": {"field": "gy", "type": "quantitative"}, "text": {"field": "pct"}}},
    {"data": {"values": [{}]}, "mark": {"type": "rule", "color": "black", "strokeWidth": 2}, "encoding": {"x": {"datum": 0.102, "type": "quantitative"}, "y": {"datum": -57, "type": "quantitative"}, "y2": {"datum": 266}}},
    {"data": {"values": [{}]}, "mark": {"type": "rule", "color": "black", "strokeWidth": 2}, "encoding": {"x": {"datum": 0.102, "type": "quantitative"}, "x2": {"datum": 36500}, "y": {"datum": -57, "type": "quantitative"}}},
    {"data": {"values": [{}]}, "mark": {"type": "point", "shape": "M-1,1L0,0L1,1", "size": 90, "color": "black", "strokeWidth": 2, "opacity": 1}, "encoding": {"x": {"datum": 0.102, "type": "quantitative"}, "y": {"datum": 266, "type": "quantitative"}}},
    {"data": {"values": [{}]}, "mark": {"type": "point", "shape": "M-1,-1L0,0L-1,1", "size": 90, "color": "black", "strokeWidth": 2, "opacity": 1}, "encoding": {"x": {"datum": 36500, "type": "quantitative"}, "y": {"datum": -57, "type": "quantitative"}}}
   ]},
   {"width": 192, "height": 188, "title": "Inactivated vaccine", "layer": [
    {"data": {"name": "hist"}, "transform": [{"filter": "datum.p=='bIn'"}], "mark": {"type": "area", "color": "#00ff00"},
     "encoding": {
      "x": {"field": "x", "type": "quantitative", "scale": {"type": "log", "domain": [0.7, 15000], "nice": false}, "axis": {"title": null, "labelOverlap": false, "values": [1,2,3,4,5,6,7,8,9,10,20,30,40,50,60,70,80,90,100,200,300,400,500,600,700,800,900,1000,2000,3000,4000,5000,6000,7000,8000,9000,10000], "labelExpr": "datum.value==1?'10⁰':datum.value==10?'10¹':datum.value==100?'10²':datum.value==1000?'10³':datum.value==10000?'10⁴':''", "labelFontSize": 9, "labelAlign": "left", "labelOffset": -6, "tickSize": {"condition": {"test": "indexof([1,10,100,1000,10000], datum.value) >= 0", "value": 5}, "value": 2.5}}},
      "y": {"field": "c", "type": "quantitative", "scale": {"domain": [0, 514], "nice": false}, "axis": {"title": null, "labelOverlap": false, "values": [0,100,200,300,400,500], "tickCount": 6, "tickSize": 4}}
     }},
    {"data": {"name": "gate"}, "transform": [{"filter": "datum.p=='bIn'"}], "mark": {"type": "rule", "color": "#555", "strokeWidth": 1.2}, "encoding": {"x": {"field": "g1", "type": "quantitative"}, "x2": {"field": "g2"}, "y": {"field": "gy", "type": "quantitative"}}},
    {"data": {"name": "gate"}, "transform": [{"filter": "datum.p=='bIn'"}, {"fold": ["g1", "g2"], "as": ["end", "gx"]}], "mark": {"type": "point", "shape": "M0,-1L0,1", "size": 49, "color": "#555", "strokeWidth": 1.2, "opacity": 1}, "encoding": {"x": {"field": "gx", "type": "quantitative"}, "y": {"field": "gy", "type": "quantitative"}}},
    {"data": {"name": "gate"}, "transform": [{"filter": "datum.p=='bIn'"}], "mark": {"type": "text", "text": "CFSE-A subset", "align": "left", "baseline": "middle", "dx": 32, "dy": -52, "fontSize": 9, "color": "#333"}, "encoding": {"x": {"field": "g1", "type": "quantitative"}, "y": {"field": "gy", "type": "quantitative"}}},
    {"data": {"name": "gate"}, "transform": [{"filter": "datum.p=='bIn'"}], "mark": {"type": "text", "align": "left", "baseline": "middle", "dx": 32, "dy": -38, "fontSize": 9, "color": "#333"}, "encoding": {"x": {"field": "g1", "type": "quantitative"}, "y": {"field": "gy", "type": "quantitative"}, "text": {"field": "pct"}}}
   ]},
   {"width": 234, "height": 154, "title": {"text": "SPL", "fontWeight": "bold", "fontSize": 11.5, "offset": 9}, "view": {"stroke": null}, "layer": [
    {"data": {"name": "barsB"}, "mark": {"type": "bar", "stroke": "black", "strokeWidth": 2},
     "encoding": {
      "x": {"field": "g", "type": "nominal", "scale": {"domain": ["PBS","409p'","HA","aCD11c-HA","Inactivated vaccine"], "range": [24, 232], "paddingInner": 0.34, "paddingOuter": 0.14}, "axis": {"title": null, "labelAngle": -45, "labelFont": "Liberation Sans", "labelFontWeight": "bold", "labelFontSize": 9, "labelColor": "black", "domainWidth": 2, "domainColor": "black", "tickColor": "black", "tickWidth": 1.5, "tickSize": 4, "labelPadding": 2}},
      "y": {"field": "m", "type": "quantitative", "scale": {"domain": [0, 15], "range": [154, 14], "nice": false}, "axis": {"title": "% proliferated CD8⁺T cells", "labelOverlap": false, "values": [0,5,10,15], "tickCount": 4, "offset": -24, "domainWidth": 2, "domainColor": "black", "tickWidth": 2, "tickColor": "black", "tickSize": 5, "labelFont": "Liberation Sans", "labelFontWeight": "bold", "labelFontSize": 11, "labelColor": "black", "labelPadding": 1, "titleFont": "Liberation Serif", "titleFontWeight": "bold", "titleFontSize": 9.5, "titlePadding": 4}},
      "color": {"field": "g", "type": "nominal", "scale": {"domain": ["PBS","409p'","HA","aCD11c-HA","Inactivated vaccine"], "range": ["#ffffff","#d4d4d4","#00ff00","#ff8080","#0000ff"]}, "legend": null}
     }},
    {"data": {"name": "barsB"}, "mark": {"type": "rule", "strokeWidth": 2, "color": "black"}, "encoding": {"x": {"field": "g", "type": "nominal"}, "y": {"field": "m", "type": "quantitative"}, "y2": {"field": "hi"}}},
    {"data": {"name": "barsB"}, "mark": {"type": "tick", "thickness": 2, "size": 13, "color": "black", "opacity": 1}, "encoding": {"x": {"field": "g", "type": "nominal"}, "y": {"field": "hi", "type": "quantitative"}}},
    {"data": {"name": "sigB"}, "mark": {"type": "rule", "strokeWidth": 2, "color": "black"}, "encoding": {"x": {"field": "from", "type": "nominal", "bandPosition": 0.5}, "x2": {"field": "to"}, "y": {"field": "y", "type": "quantitative"}}},
    {"data": {"name": "sigB"}, "transform": [{"fold": ["from", "to"], "as": ["end", "cat"]}], "mark": {"type": "point", "shape": "M0,-1L0,1", "size": 40, "color": "black", "strokeWidth": 2, "opacity": 1}, "encoding": {"x": {"field": "cat", "type": "nominal"}, "y": {"field": "y", "type": "quantitative"}}},
    {"data": {"name": "sigB"}, "transform": [{"filter": "datum.span == 1"}], "mark": {"type": "text", "fontSize": 10, "baseline": "middle", "dy": -5, "color": "black"}, "encoding": {"x": {"field": "from", "type": "nominal", "bandPosition": 1.258}, "y": {"field": "y", "type": "quantitative"}, "text": {"field": "s"}}},
    {"data": {"name": "sigB"}, "transform": [{"filter": "datum.span == 2"}], "mark": {"type": "text", "fontSize": 10, "baseline": "middle", "dy": -5, "color": "black"}, "encoding": {"x": {"field": "from", "type": "nominal", "bandPosition": 2.015}, "y": {"field": "y", "type": "quantitative"}, "text": {"field": "s"}}}
   ]}
  ], "spacing": 36, "bounds": "flush"}
 ]}
]
}
